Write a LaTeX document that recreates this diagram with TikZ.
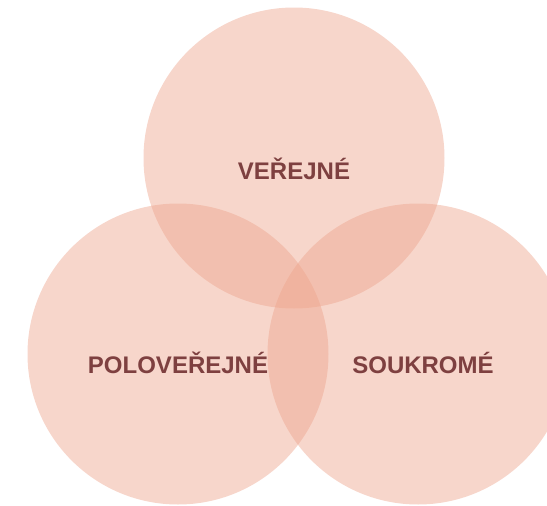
\documentclass[tikz,border=0pt]{standalone}
\usepackage{fontspec}
\setmainfont{Liberation Sans}
\definecolor{setfill}{RGB}{237,164,140}
\definecolor{settext}{RGB}{126,64,64}
\tikzset{
  setcircle/.style={fill=setfill, fill opacity=0.45},
  setlabel/.style={text=settext, font=\fontsize{24}{27}\selectfont\bfseries, inner sep=0pt}
}
\begin{document}
\begin{tikzpicture}[x=1pt,y=-1pt]
   \useasboundingbox (0,0) rectangle (547,506);
   % three sets
   \fill[setcircle] (294,158) circle (150.5);
   \fill[setcircle] (178,354) circle (150.5);
   \fill[setcircle] (418,354) circle (150.5);
   % labels
   \node[setlabel] (verejne) at (294,169) {VEŘEJNÉ};
   \node[setlabel] (poloverejne) at (178,363) {POLOVEŘEJNÉ};
   \node[setlabel] (soukrome) at (423,363) {SOUKROMÉ};
\end{tikzpicture}
\end{document}
